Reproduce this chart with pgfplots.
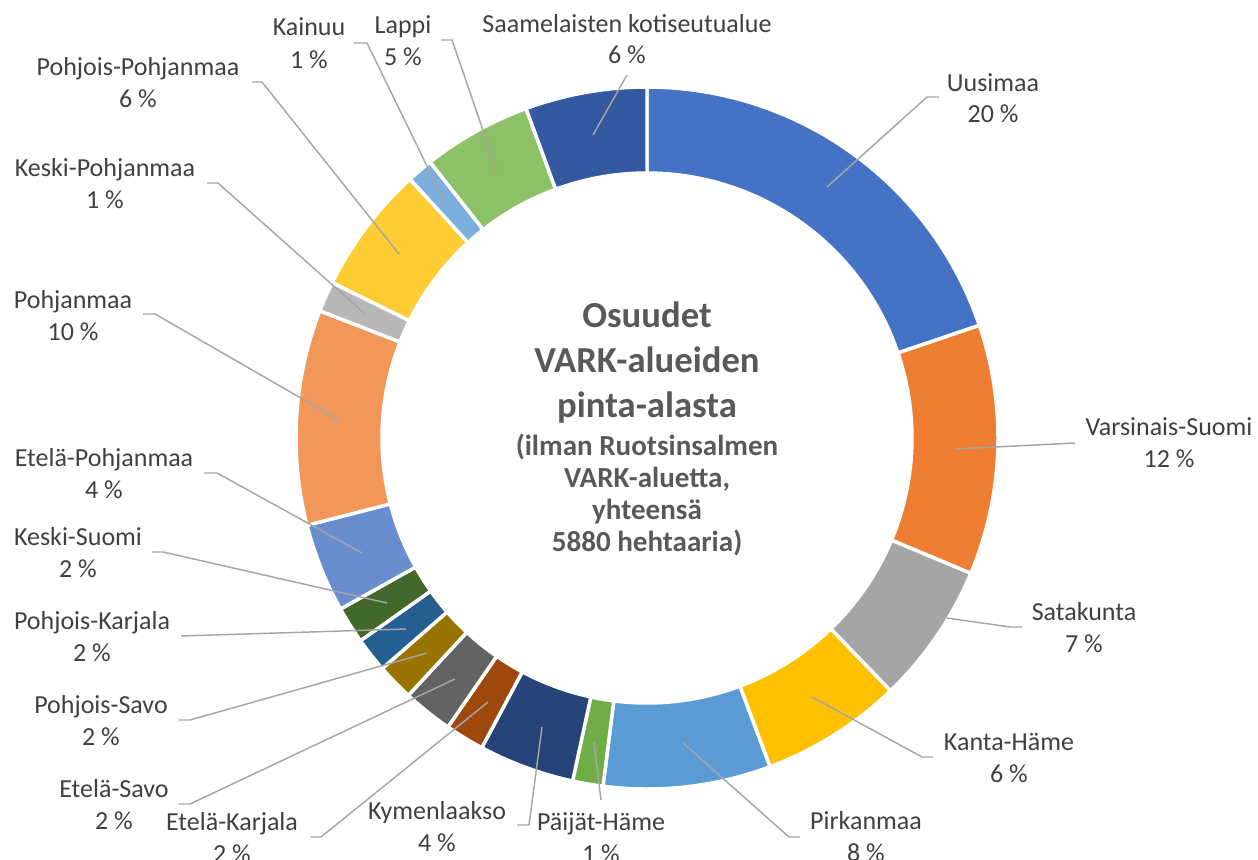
\documentclass[border=0pt]{standalone}
\usepackage{fontspec}
\setmainfont{Carlito}
\usepackage{pgfplots}
\usepackage{pgfplotstable}
\pgfplotsset{compat=1.18}
\definecolor{cUus}{HTML}{4472C4}
\definecolor{cVS}{HTML}{ED7D31}
\definecolor{cSat}{HTML}{A5A5A5}
\definecolor{cKH}{HTML}{FFC000}
\definecolor{cPir}{HTML}{5B9BD5}
\definecolor{cPH}{HTML}{70AD47}
\definecolor{cKym}{HTML}{264478}
\definecolor{cEK}{HTML}{9E480E}
\definecolor{cES}{HTML}{636363}
\definecolor{cPS}{HTML}{997300}
\definecolor{cPK}{HTML}{255E91}
\definecolor{cKS}{HTML}{43682B}
\definecolor{cEP}{HTML}{698ED0}
\definecolor{cPoh}{HTML}{F1975A}
\definecolor{cKP}{HTML}{B7B7B7}
\definecolor{cPP}{HTML}{FFCD33}
\definecolor{cKai}{HTML}{7CAFDD}
\definecolor{cLap}{HTML}{8CC168}
\definecolor{cSaa}{HTML}{335AA1}
\definecolor{cTxt}{HTML}{404040}
\definecolor{cTitle}{HTML}{595959}
\definecolor{cLdr}{HTML}{A6A6A6}

% shares of the area (percent), clockwise from the top
\pgfplotstableread{
pct col
19.8 cUus
11.5 cVS
6.5 cSat
6.5 cKH
7.7 cPir
1.4 cPH
4.4 cKym
1.8 cEK
2.3 cES
1.7 cPS
1.6 cPK
1.7 cKS
4.1 cEP
9.9 cPoh
1.4 cKP
5.9 cPP
1.2 cKai
5.0 cLap
5.6 cSaa
}\slices

\tikzset{
  lab/.style={font=\fontsize{19.5}{23}\selectfont, text=cTxt, inner sep=0pt, anchor=base},
  bigt/.style={font=\bfseries\fontsize{27.5}{33}\selectfont, text=cTitle, inner sep=0pt, anchor=base},
  smallt/.style={font=\bfseries\fontsize{21.8}{26}\selectfont, text=cTitle, inner sep=0pt, anchor=base},
  ldr/.style={color=cLdr, line width=1.1pt}
}
\newcommand\lab[5]{%
  \node[lab] at (axis cs:#1,#2) {#4};
  \node[lab] at (axis cs:#1,#3) {#5};
}

\begin{document}
\begin{tikzpicture}
\begin{axis}[
  scale only axis, width=943.5pt, height=645pt,
  xmin=0, xmax=1258, ymin=0, ymax=860, y dir=reverse,
  hide axis, clip=false,
]
\xdef\cum{0}
\pgfplotsinvokeforeach{0,...,18}{%
  \pgfplotstablegetelem{#1}{pct}\of\slices
  \let\sv\pgfplotsretval
  \pgfplotstablegetelem{#1}{col}\of\slices
  \let\scol\pgfplotsretval
  \pgfmathsetmacro\sa{90-3.6*\cum}%
  \pgfmathsetmacro\sb{90-3.6*(\cum+\sv)}%
  \edef\temp{\noexpand\addplot[fill=\scol, draw=white, line width=2.6pt,
    samples at={0,1,...,40,100,101,...,140}, variable=\noexpand\t]
   ({647+ifthenelse(\noexpand\t<50,351,265)*cos(ifthenelse(\noexpand\t<50,(\sa)+((\sb)-(\sa))*\noexpand\t/40,(\sb)+((\sa)-(\sb))*(\noexpand\t-100)/40))},
    {438-ifthenelse(\noexpand\t<50,351,265)*sin(ifthenelse(\noexpand\t<50,(\sa)+((\sb)-(\sa))*\noexpand\t/40,(\sb)+((\sa)-(\sb))*(\noexpand\t-100)/40))}) -- cycle;}%
  \temp
  \pgfmathsetmacro\tmpc{\cum+\sv}\xdef\cum{\tmpc}%
}

% leader lines
\addplot[ldr] coordinates {(827,187) (927,97) (939,97)};
\addplot[ldr] coordinates {(593,135) (627,75)};
\addplot[ldr] coordinates {(496,168) (452,40) (441,40)};
\addplot[ldr] coordinates {(445,203) (367,43) (354,43)};
\addplot[ldr] coordinates {(399,254) (262,82) (252,82)};
\addplot[ldr] coordinates {(364,313) (218,183) (207,183)};
\addplot[ldr] coordinates {(339,420) (155,314) (143,314)};
\addplot[ldr] coordinates {(362,553) (217,473) (204,473)};
\addplot[ldr] coordinates {(387,603) (163,552) (152,552)};
\addplot[ldr] coordinates {(406,629) (181,636)};
\addplot[ldr] coordinates {(427,653) (190,720) (179,720)};
\addplot[ldr] coordinates {(455,679) (190,804) (179,804)};
\addplot[ldr] coordinates {(488,702) (321,837) (310,837)};
\addplot[ldr] coordinates {(542,727) (529,825) (517,825)};
\addplot[ldr] coordinates {(594,742) (601,800)};
\addplot[ldr] coordinates {(683,743) (789,837) (800,837)};
\addplot[ldr] coordinates {(812,697) (922,757) (933,757)};
\addplot[ldr] coordinates {(947,618) (1010,627) (1022,627)};
\addplot[ldr] coordinates {(955,449) (1075,443)};

% labels
\lab{993}{91}{122}{Uusimaa}{20 \%}
\lab{1169}{435}{467}{Varsinais-Suomi}{12 \%}
\lab{1084}{620}{652}{Satakunta}{7 \%}
\lab{1009}{750}{782}{Kanta-Häme}{6 \%}
\lab{866}{829}{861}{Pirkanmaa}{8 \%}
\lab{601}{830}{862}{Päijät-Häme}{1 \%}
\lab{437}{819}{851}{Kymenlaakso}{4 \%}
\lab{232}{830}{862}{Etelä-Karjala}{2 \%}
\lab{114}{797}{829}{Etelä-Savo}{2 \%}
\lab{101}{713}{745}{Pohjois-Savo}{2 \%}
\lab{92}{629}{661}{Pohjois-Karjala}{2 \%}
\lab{78}{545}{577}{Keski-Suomi}{2 \%}
\lab{104}{466}{498}{Etelä-Pohjanmaa}{4 \%}
\lab{73}{308}{340}{Pohjanmaa}{10 \%}
\lab{105}{176}{208}{Keski-Pohjanmaa}{1 \%}
\lab{138}{75}{107}{Pohjois-Pohjanmaa}{6 \%}
\lab{309}{36}{68}{Kainuu}{1 \%}
\lab{403}{33}{65}{Lappi}{5 \%}
\lab{627}{32}{63}{Saamelaisten kotiseutualue}{6 \%}

% centre text
\node[bigt] at (axis cs:647,327) {Osuudet};
\node[bigt] at (axis cs:647,372) {VARK-alueiden};
\node[bigt] at (axis cs:647,417) {pinta-alasta};
\node[smallt] at (axis cs:647,455) {(ilman Ruotsinsalmen};
\node[smallt] at (axis cs:647,487) {VARK-aluetta,};
\node[smallt] at (axis cs:647,519) {yhteensä};
\node[smallt] at (axis cs:647,551) {5880 hehtaaria)};
\end{axis}
\pgfresetboundingbox
\useasboundingbox (current axis.south west) rectangle (current axis.north east);
\end{tikzpicture}
\end{document}
